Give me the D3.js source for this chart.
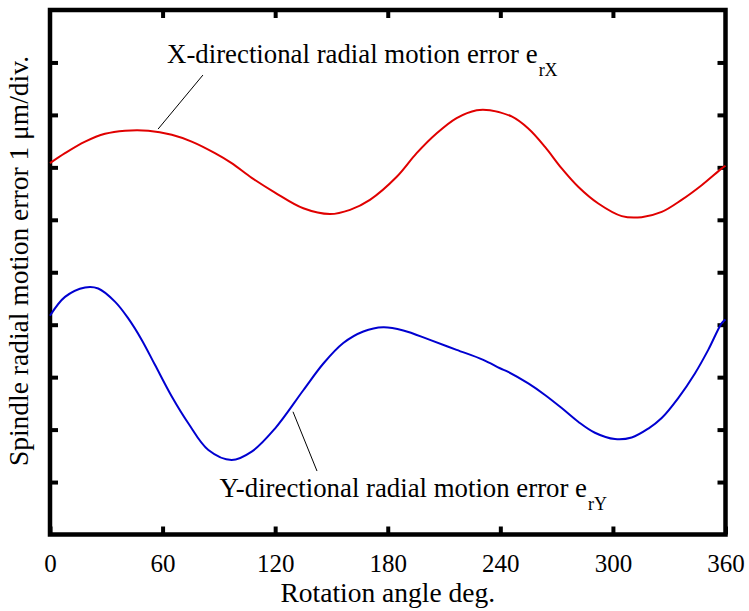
<!DOCTYPE html>
<html>
<head>
<meta charset="utf-8">
<script src="https://cdn.jsdelivr.net/npm/d3@7"></script>
<style>
  body { margin: 0; background: #fff; }
  text { font-family: "Liberation Serif", "Times New Roman", serif; fill: #000; }
</style>
</head>
<body>
<svg width="749" height="611"></svg>
<script>
/// data (angle in deg, value in divisions of 1 um)
var angleTicks = [0, 60, 120, 180, 240, 300, 360];
var divTicks = [1, 2, 3, 4, 5, 6, 7, 8, 9];

var xAngle = [0, 8, 18.7, 29.3, 40, 52.4, 64.9, 75.5, 87.9, 96.8, 107.5, 119.9, 135, 149.2,
  159.9, 170.5, 184.8, 195.4, 206.1, 216.7, 227.4, 234.5, 246, 254.9, 263.8, 272.7, 281.5,
  292.2, 304.7, 315.3, 326, 336.6, 347.3, 358, 360];
var xError = [7.08, 7.27, 7.49, 7.64, 7.70, 7.70, 7.62, 7.49, 7.27, 7.08, 6.80, 6.52, 6.22, 6.11,
  6.19, 6.38, 6.82, 7.27, 7.65, 7.94, 8.09, 8.09, 7.97, 7.74, 7.39, 6.98, 6.63,
  6.31, 6.07, 6.05, 6.15, 6.38, 6.66, 6.98, 7.03];

var yAngle = [0, 8, 18.7, 25.7, 34.6, 41.7, 48.9, 56, 64.9, 73.7, 84.4, 96.8, 107.5, 119.9,
  135, 145.7, 156.3, 167, 177.6, 188.3, 202.5, 216.7, 230.9, 239.8, 244.2, 254.9, 263.8,
  272.7, 281.5, 290.4, 301.1, 310, 318.9, 326, 334.8, 343.7, 350.8, 358, 360];
var yError = [4.17, 4.53, 4.71, 4.69, 4.44, 4.12, 3.71, 3.23, 2.63, 2.12, 1.61, 1.42, 1.58, 2.02,
  2.75, 3.26, 3.65, 3.87, 3.95, 3.89, 3.71, 3.52, 3.33, 3.17, 3.10, 2.88, 2.66,
  2.41, 2.15, 1.94, 1.82, 1.85, 2.02, 2.22, 2.60, 3.07, 3.52, 4.03, 4.10];

var svg = d3.select("svg");
// note: "top" is taken by window.top, so plot edges get their own names
var plotL = 50, plotR = 725.5, plotT = 10, plotB = 534.5;

var x = d3.scaleLinear().domain([0, 360]).range([plotL, plotR]);
var y = d3.scaleLinear().domain([0, 10]).range([plotB, plotT]);

/// axes: inward ticks on all four sides, labels only at bottom
var bx = svg.append("g").attr("transform", "translate(0," + plotB + ")")
  .call(d3.axisBottom(x).tickValues(angleTicks).tickSize(-8).tickPadding(20));
bx.selectAll("text").style("font-size", "25px").style("font-family", "Liberation Serif");

svg.append("g").attr("transform", "translate(0," + plotT + ")")
  .call(d3.axisTop(x).tickValues(angleTicks.slice(1, -1)).tickSize(-8).tickFormat(""));
svg.append("g").attr("transform", "translate(" + plotL + ",0)")
  .call(d3.axisLeft(y).tickValues(divTicks).tickSize(-8).tickFormat(""));
svg.append("g").attr("transform", "translate(" + plotR + ",0)")
  .call(d3.axisRight(y).tickValues(divTicks).tickSize(-8).tickFormat(""));

svg.selectAll(".domain").remove();
svg.selectAll(".tick line").attr("stroke", "#000").attr("stroke-width", 4);

svg.append("rect")
  .attr("x", plotL).attr("y", plotT)
  .attr("width", plotR - plotL).attr("height", plotB - plotT)
  .attr("fill", "none").attr("stroke", "#000").attr("stroke-width", 4.5);

/// curves
var line = d3.line()
  .x(function(d) { return x(d[0]); })
  .y(function(d) { return y(d[1]); })
  .curve(d3.curveCatmullRom);

svg.append("path")
  .datum(d3.zip(xAngle, xError))
  .attr("d", line)
  .attr("fill", "none").attr("stroke", "#e00000").attr("stroke-width", 2);

svg.append("path")
  .datum(d3.zip(yAngle, yError))
  .attr("d", line)
  .attr("fill", "none").attr("stroke", "#0000d0").attr("stroke-width", 2);

/// annotations
var leaders = [
  [[81.5, 8.76], [57.6, 7.73]],
  [[129.5, 2.34], [142.3, 1.21]]
];
svg.selectAll(".leader")
  .data(leaders)
  .enter().append("line")
  .attr("class", "leader")
  .attr("x1", function(d) { return x(d[0][0]); })
  .attr("y1", function(d) { return y(d[0][1]); })
  .attr("x2", function(d) { return x(d[1][0]); })
  .attr("y2", function(d) { return y(d[1][1]); })
  .attr("stroke", "#000").attr("stroke-width", 1);

var labels = [
  {a: 62.4, v: 8.99, main: "X-directional radial motion error e", sub: "rX"},
  {a: 90.3, v: 0.72, main: "Y-directional radial motion error e", sub: "rY"}
];
var lab = svg.selectAll(".lab")
  .data(labels)
  .enter().append("text")
  .attr("class", "lab")
  .attr("x", function(d) { return x(d.a); })
  .attr("y", function(d) { return y(d.v); })
  .style("font-size", "26.8px");
lab.append("tspan").text(function(d) { return d.main; });
lab.append("tspan").attr("dx", 1).attr("dy", 13).style("font-size", "18px").text(function(d) { return d.sub; });

/// titles
svg.append("text")
  .attr("x", (plotL + plotR) / 2).attr("y", 602)
  .attr("text-anchor", "middle")
  .style("font-size", "27.5px")
  .text("Rotation angle deg.");

svg.append("text")
  .attr("transform", "translate(28,261) rotate(-90)")
  .attr("text-anchor", "middle")
  .style("font-size", "27.5px")
  .text("Spindle radial motion error 1 μm/div.");
</script>
</body>
</html>
